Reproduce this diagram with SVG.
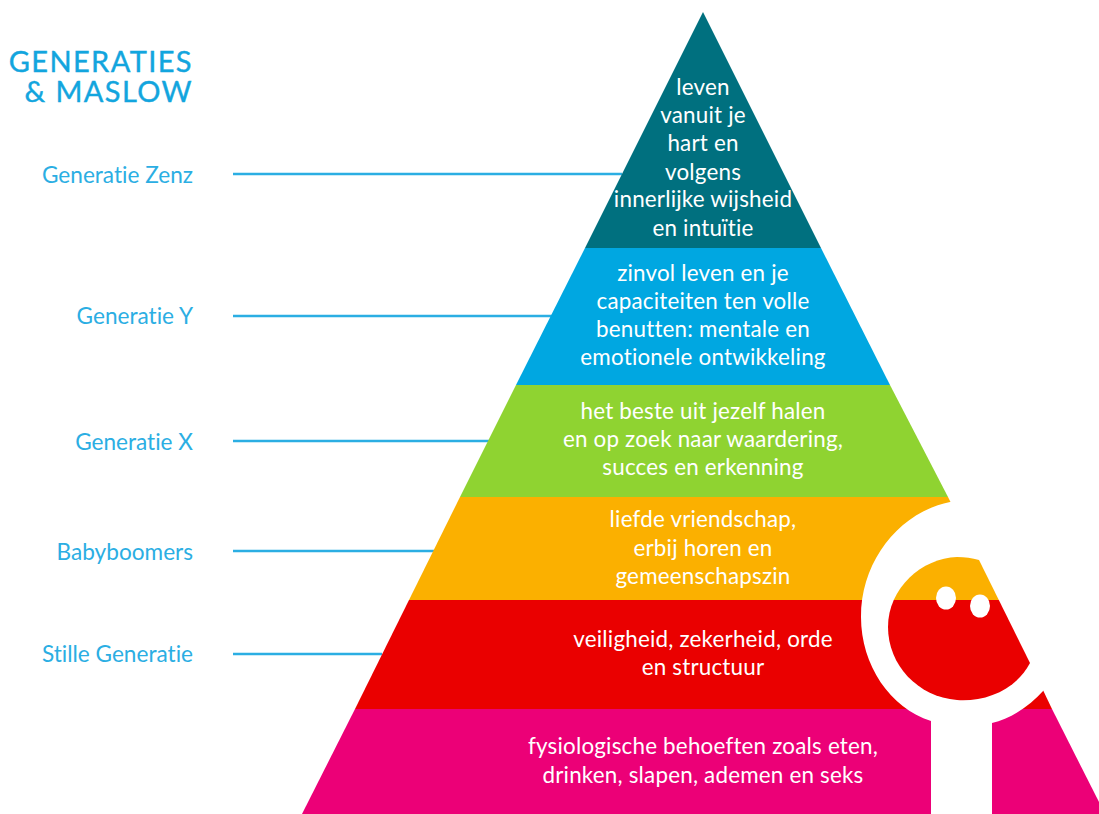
<svg xmlns="http://www.w3.org/2000/svg" width="1099" height="814" viewBox="0 0 1099 814">
<style>
text{font-family:"Lato","Open Sans","Liberation Sans",sans-serif;font-variant-ligatures:none}
.t{fill:#fff;font-size:22.4px;letter-spacing:.2px;text-anchor:middle}
.g{fill:#2baee3;font-size:22.6px;text-anchor:end}
.h{fill:#12a5de;stroke:#12a5de;stroke-width:.4px;font-size:29px;text-anchor:end;letter-spacing:1.4px}
.l{stroke:#2baee3;stroke-width:2.5;fill:none}
</style>
<defs><clipPath id="lens"><path d="M979 560L1030 663C1016 690 985 702 957 700C918 697 888 665 888 627C888 588 922 558 957 557C965 557 972 558 979 560Z"/></clipPath></defs>
<rect width="1099" height="814" fill="#fff"/>
<g id="connectors">
<path class="l" d="M233 174H622M233 316H552M233 441H490M233 551H434M233 654H382"/>
</g>
<g id="level-6"><polygon points="703,12 821,248 585,248" fill="#00707f"/>
<text class="t" x="703" y="95">leven</text><text class="t" x="703" y="123">vanuit je</text><text class="t" x="703" y="151">hart en</text><text class="t" x="703" y="180">volgens</text><text class="t" x="703" y="207">innerlijke wijsheid</text><text class="t" x="703" y="236">en intuïtie</text></g>
<g id="level-5"><polygon points="585,248 821,248 890,385 516,385" fill="#00a7e1"/>
<text class="t" x="703" y="281">zinvol leven en je</text><text class="t" x="703" y="309">capaciteiten ten volle</text><text class="t" x="703" y="337">benutten: mentale en</text><text class="t" x="703" y="365">emotionele ontwikkeling</text></g>
<g id="level-4"><polygon points="516,385 890,385 948,497 460,497" fill="#8fd331"/>
<text class="t" x="703" y="419">het beste uit jezelf halen</text><text class="t" x="703" y="447">en op zoek naar waardering,</text><text class="t" x="703" y="475">succes en erkenning</text></g>
<g id="level-3"><polygon points="460,497 948,497 1000,600 409,600" fill="#fbb000"/>
<text class="t" x="703" y="527">liefde vriendschap,</text><text class="t" x="703" y="556">erbij horen en</text><text class="t" x="703" y="584">gemeenschapszin</text></g>
<g id="level-2"><polygon points="409,600 1000,600 1052,709 355,709" fill="#ea0000"/>
<text class="t" x="703" y="647">veiligheid, zekerheid, orde</text><text class="t" x="703" y="675">en structuur</text></g>
<g id="level-1"><polygon points="355,709 1052,709 1105,814 302,814" fill="#ec0077"/>
<text class="t" x="703" y="754">fysiologische behoeften zoals eten,</text><text class="t" x="703" y="783">drinken, slapen, ademen en seks</text></g>
<g id="magnifier">
<path fill="#fff" d="M950 502C900 512 861 560 861 617C861 665 890 708 931 721V814H992V723C1010 719 1030 706 1044 690L1099 640V502Z"/>
<g clip-path="url(#lens)"><rect x="880" y="550" width="160" height="50" fill="#fbb000"/><rect x="880" y="600" width="160" height="105" fill="#ea0000"/></g>
<ellipse cx="946" cy="598" rx="10" ry="11.500" fill="#fff"/><ellipse cx="980" cy="606" rx="10" ry="11.500" fill="#fff"/>
</g>
<g id="title"><text class="h" x="193" y="72">GENERATIES</text><text class="h" x="193" y="102">&amp; MASLOW</text></g>
<g id="label-zenz"><text class="g" x="193" y="183">Generatie Zenz</text></g>
<g id="label-y"><text class="g" x="193" y="324">Generatie Y</text></g>
<g id="label-x"><text class="g" x="193" y="450">Generatie X</text></g>
<g id="label-boomers"><text class="g" x="193" y="560">Babyboomers</text></g>
<g id="label-stille"><text class="g" x="193" y="662">Stille Generatie</text></g>
</svg>
